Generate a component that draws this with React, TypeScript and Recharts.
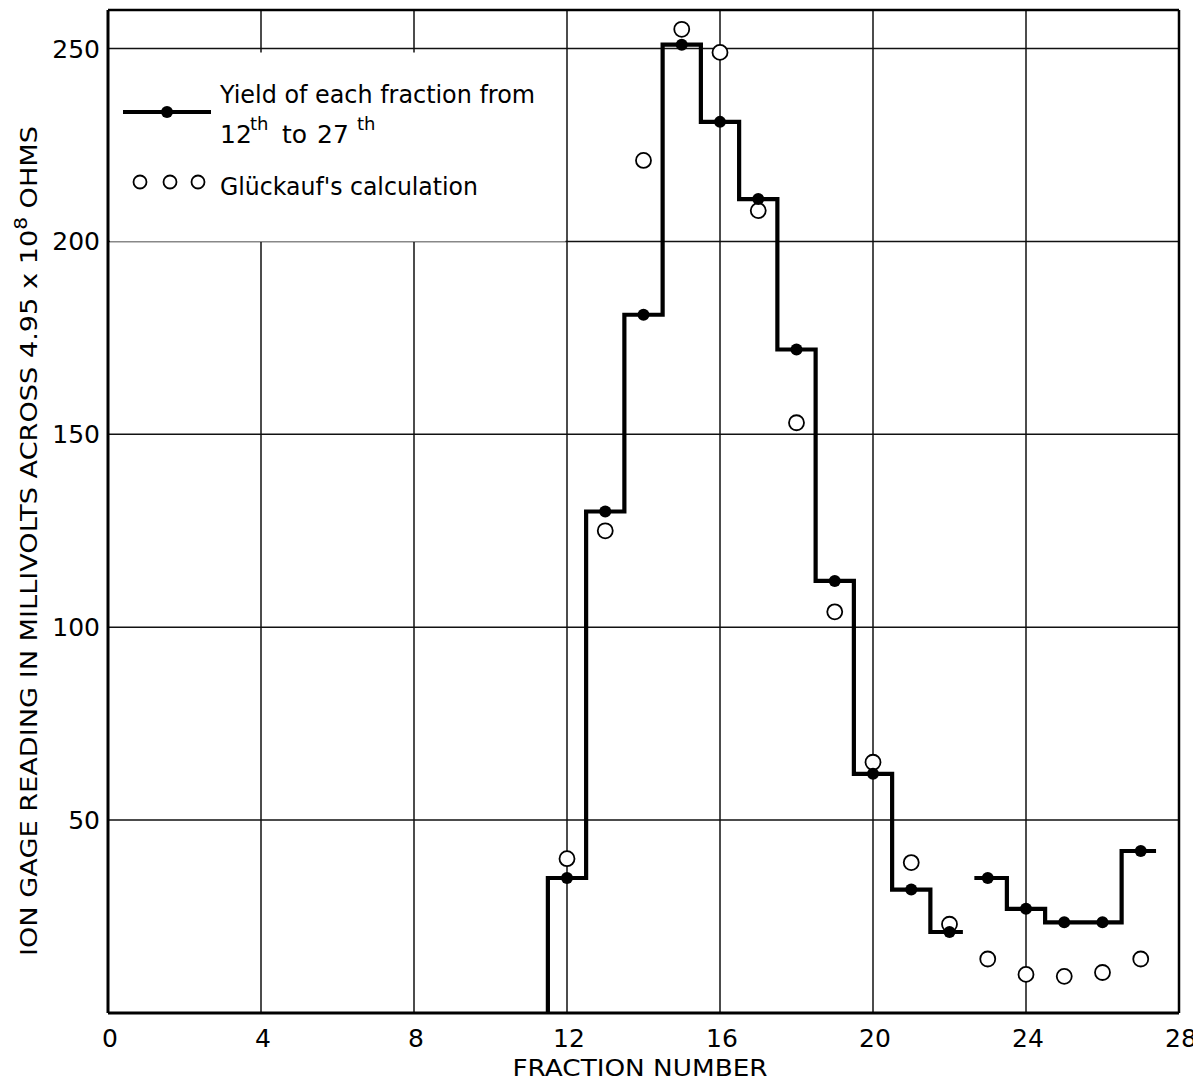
import React from 'react';
import { ComposedChart, Line, Scatter, XAxis, YAxis, CartesianGrid, ReferenceLine } from 'recharts';

const fractions = [12, 13, 14, 15, 16, 17, 18, 19, 20, 21, 22, 23, 24, 25, 26, 27];
const yieldValues = [35, 130, 181, 251, 231, 211, 172, 112, 62, 32, 21, 35, 27, 23.5, 23.5, 42];
const gluckaufValues = [40, 125, 221, 255, 249, 208, 153, 104, 65, 39, 23, 14, 10, 9.5, 10.5, 14];
const xTicks = [0, 4, 8, 12, 16, 20, 24, 28];
const yTicks = [50, 100, 150, 200, 250];

// the stepped yield curve is drawn in two runs
const runFirst = [12, 23];
const runLast = [22, 27];
const runStart = [11.5, 22.65];
const runEnd = [22.35, 27.4];
const runFromBase = [true, false];

const FONT = '"DejaVu Sans", Roboto, sans-serif';
const W = 1190;
const H = 1074;

const runs = runFirst.map((first, r) => {
  const pts: { x: number; y: number }[] = [];
  if (runFromBase[r]) pts.push({ x: runStart[r], y: 0 });
  fractions.forEach((fr, i) => {
    if (fr < first || fr > runLast[r]) return;
    const left = fr === first ? runStart[r] : fr - 0.5;
    const right = fr === runLast[r] ? runEnd[r] : fr + 0.5;
    pts.push({ x: left, y: yieldValues[i] }, { x: right, y: yieldValues[i] });
  });
  return pts;
});

const yieldPoints = fractions.map((x, i) => ({ x, y: yieldValues[i] }));
const gluckaufPoints = fractions.map((x, i) => ({ x, y: gluckaufValues[i] }));

const FilledDot = (p: any) => <circle cx={p.cx} cy={p.cy} r={6} fill="#000" />;
const OpenDot = (p: any) => (
  <circle cx={p.cx} cy={p.cy} r={7.5} fill="#fff" stroke="#000" strokeWidth={1.8} />
);

const XTick = (p: any) => (
  <text x={p.x + 2} y={p.y} dy={34} textAnchor="middle" fontFamily={FONT} fontSize={25} fill="#000">
    {p.payload.value}
  </text>
);
const YTick = (p: any) => (
  <text x={p.x} y={p.y} dy={9} textAnchor="end" fontFamily={FONT} fontSize={25} fill="#000">
    {p.payload.value}
  </text>
);

export default function App() {
  return (
    <div style={{ position: 'relative', width: W, height: H, background: '#fff' }}>
      <ComposedChart width={W} height={H} margin={{ top: 2, right: 19, bottom: 0, left: 0 }}>
        <CartesianGrid stroke="#111" strokeWidth={1.5} />
        <XAxis
          type="number"
          dataKey="x"
          domain={[0, 28]}
          ticks={xTicks}
          interval={0}
          height={69}
          tickSize={0}
          tickMargin={0}
          tickLine={false}
          axisLine={{ stroke: '#000', strokeWidth: 3 }}
          tick={<XTick />}
          allowDataOverflow
        />
        <YAxis
          type="number"
          dataKey="y"
          domain={[0, 260]}
          ticks={yTicks}
          interval={0}
          width={100}
          tickSize={0}
          tickMargin={8}
          tickLine={false}
          axisLine={{ stroke: '#000', strokeWidth: 3 }}
          tick={<YTick />}
          allowDataOverflow
        />
        <ReferenceLine y={260} stroke="#000" strokeWidth={2.5} />
        <ReferenceLine x={28} stroke="#000" strokeWidth={2.5} />
        <Scatter data={gluckaufPoints} shape={OpenDot} isAnimationActive={false} />
        {runs.map((pts, r) => (
          <Line
            key={r}
            data={pts}
            dataKey="y"
            type="linear"
            stroke="#000"
            strokeWidth={4.2}
            dot={false}
            activeDot={false}
            isAnimationActive={false}
          />
        ))}
        <Scatter data={yieldPoints} shape={FilledDot} isAnimationActive={false} />
      </ComposedChart>
      <svg
        width={W}
        height={H}
        style={{ position: 'absolute', left: 0, top: 0, pointerEvents: 'none' }}
        fontFamily={FONT}
      >
        {/* legend panel */}
        <rect x={102} y={44.5} width={455.5} height={189} fill="#fff" />
        <line x1={115} y1={104} x2={203} y2={104} stroke="#000" strokeWidth={4.2} />
        <circle cx={159} cy={104} r={6} fill="#000" />
        <text x={212} y={95} fontSize={25} textLength={315} lengthAdjust="spacingAndGlyphs">
          Yield of each fraction from
        </text>
        <text y={135} fontSize={25}>
          <tspan x={212}>12</tspan>
          <tspan x={242} dy={-13} fontSize={18}>th</tspan>
          <tspan x={274} dy={13}>to</tspan>
          <tspan x={309}>27</tspan>
          <tspan x={349} dy={-13} fontSize={18}>th</tspan>
        </text>
        <circle cx={132} cy={174} r={6.5} fill="#fff" stroke="#000" strokeWidth={1.8} />
        <circle cx={162} cy={174} r={6.5} fill="#fff" stroke="#000" strokeWidth={1.8} />
        <circle cx={190} cy={174} r={6.5} fill="#fff" stroke="#000" strokeWidth={1.8} />
        <text x={212} y={187} fontSize={25} textLength={258} lengthAdjust="spacingAndGlyphs">
          Glückauf's calculation
        </text>
        {/* axis titles */}
        <text
          x={632}
          y={1068}
          fontSize={23}
          textAnchor="middle"
          textLength={255}
          lengthAdjust="spacingAndGlyphs"
        >
          FRACTION NUMBER
        </text>
        <text
          x={29}
          y={533}
          fontSize={23}
          textAnchor="middle"
          transform="rotate(-90 29 533)"
          textLength={830}
          lengthAdjust="spacingAndGlyphs"
        >
          ION GAGE READING IN MILLIVOLTS ACROSS 4.95 x 10
          <tspan dy={-10} fontSize={17}>8</tspan>
          <tspan dy={10}> OHMS</tspan>
        </text>
      </svg>
    </div>
  );
}
